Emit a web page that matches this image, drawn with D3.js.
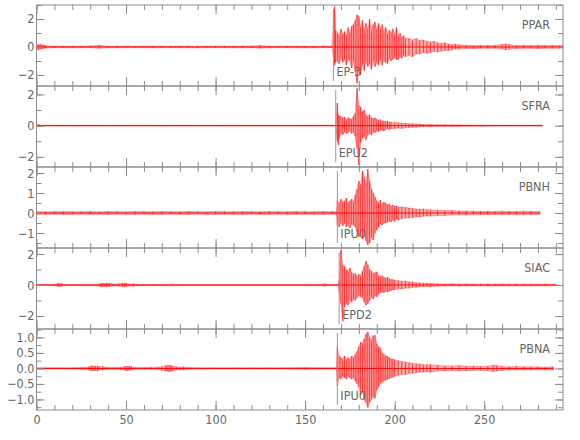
<!DOCTYPE html>
<html lang="en">
	<head>
		<meta charset="utf-8">
		<title>Seismograms</title>
		<script type="text/javascript" src="https://cdn.jsdelivr.net/npm/d3@7/dist/d3.min.js"></script>
		<style type="text/css">
			body { margin: 0; background: #fff; }
			svg text { font-family: "Liberation Sans Narrow", "DejaVu Sans Condensed", sans-serif; fill: #666; }
			.tick line { stroke: #8c8c8c; }
		</style>
	</head>
	<body>
		<script type="text/javascript">

			//Stations and picks
			var stations = ["PPAR", "SFRA", "PBNH", "SIAC", "PBNA"];
			var pickLabels = ["EP-3", "EPU2", "IPU0", "EPD2", "IPU0"];
			var pickTimes = [165.8, 167.1, 168, 169, 168];

			//Amplitude range of each trace
			var yMin = [-2.79, -2.65, -1.75, -2.84, -1.34];
			var yMax = [3.0, 2.54, 2.3, 2.39, 1.27];
			var yLabelTicks = [[-2, 0, 2], [-2, 0, 2], [-1, 0, 1, 2], [-2, 0, 2], [-1, -0.5, 0, 0.5, 1]];
			var yMinorStep = [1, 1, 0.5, 1, 0.25];

			//Time axis (s)
			var timeMax = 294;
			var timeLabels = [0, 50, 100, 150, 200, 250];

			//Traces: [time, upper, lower] read from the envelope of each record
			var ppar = [
				[0,0.2,-0.2],[1,0.16,-0.22],[2,0.2,-0.15],[3,0.14,-0.16],[4,0.15,-0.1],[5,0.08,-0.09],[10,0.06,-0.06],[15,0.07,-0.05],
				[20,0.05,-0.07],[25,0.06,-0.05],[30,0.07,-0.06],[35,0.12,-0.1],[40,0.05,-0.06],[45,0.06,-0.07],[50,0.07,-0.05],[55,0.05,-0.06],
				[60,0.06,-0.05],[65,0.07,-0.07],[70,0.05,-0.06],[75,0.06,-0.05],[80,0.07,-0.06],[85,0.05,-0.06],[90,0.06,-0.07],[95,0.05,-0.05],
				[100,0.07,-0.06],[105,0.06,-0.05],[110,0.05,-0.06],[115,0.07,-0.07],[120,0.06,-0.05],[125,0.1,-0.09],[130,0.05,-0.06],[135,0.06,-0.05],
				[140,0.07,-0.06],[145,0.05,-0.06],[150,0.06,-0.07],[155,0.05,-0.05],[160,0.07,-0.06],[165,0.06,-0.05],
				[166.5,2.9,-1.3],[167,1.2,-1.1],[168,1.0,-1.0],[169,0.8,-1.2],[170,1.3,-0.8],[171,0.9,-1.1],[172,1.1,-0.9],[173,0.8,-1.3],
				[174,1.4,-0.9],[175,1.0,-1.0],[176,1.5,-1.5],[177,1.6,-1.0],[178,1.9,-1.8],[179,2.3,-2.6],[180,2.2,-1.6],[181,1.4,-2.0],
				[182,1.9,-1.2],[183,1.2,-1.7],[184,1.7,-1.0],[185,1.3,-1.4],[186,2.0,-1.2],[187,1.1,-1.6],[188,1.6,-1.0],[189,1.8,-1.4],
				[190,1.2,-1.1],[191,1.7,-1.3],[192,1.3,-0.9],[193,1.6,-1.3],[194,1.1,-1.0],[195,1.4,-1.1],[196,0.9,-1.2],[197,1.2,-0.8],
				[198,1.0,-1.0],[199,1.3,-0.9],[200,0.9,-0.8],[201,1.4,-0.9],[202,0.8,-0.9],[203,1.0,-0.7],[204,0.7,-0.8],[205,0.8,-0.6],
				[206,0.6,-0.7],[208,0.6,-0.6],[210,0.5,-0.7],[212,0.6,-0.5],[214,0.45,-0.5],[216,0.5,-0.4],[218,0.4,-0.45],[220,0.35,-0.4],
				[222,0.4,-0.3],[224,0.3,-0.35],[226,0.25,-0.3],[228,0.3,-0.25],[230,0.2,-0.25],[232,0.15,-0.2],[234,0.2,-0.15],[236,0.15,-0.15],
				[240,0.12,-0.12],[244,0.1,-0.12],[248,0.12,-0.1],[252,0.1,-0.1],[256,0.12,-0.1],[260,0.18,-0.15],[262,0.22,-0.2],[264,0.18,-0.15],
				[268,0.1,-0.12],[272,0.12,-0.1],[276,0.1,-0.1],[280,0.12,-0.12],[284,0.1,-0.1],[288,0.12,-0.1],[292,0.1,-0.1],[294,0.08,-0.08]
			];
			var sfra = [
				[0,0.03,-0.03],[1,0.08,-0.06],[2,0.05,-0.05],[3,0.03,-0.03],[10,0.03,-0.02],[20,0.02,-0.03],[30,0.03,-0.03],[40,0.02,-0.02],
				[50,0.03,-0.03],[60,0.03,-0.02],[70,0.02,-0.03],[80,0.03,-0.03],[90,0.02,-0.02],[100,0.03,-0.03],[110,0.03,-0.02],[120,0.02,-0.03],
				[130,0.03,-0.03],[140,0.02,-0.02],[150,0.03,-0.03],[160,0.03,-0.02],[167,0.03,-0.03],
				[168,1.45,-1.0],[168.5,0.7,-1.25],[169,0.6,-0.8],[170,0.6,-0.5],[171,0.5,-0.6],[172,0.55,-0.4],[173,0.4,-0.5],[174,0.5,-0.45],
				[175,0.45,-0.35],[176,0.4,-0.5],[177,0.6,-0.4],[178,0.8,-0.7],[179,2.4,-1.5],[180,1.3,-2.5],[181,1.2,-1.1],[182,0.9,-0.8],
				[183,1.0,-0.7],[184,0.7,-0.9],[185,0.6,-0.6],[186,0.7,-0.5],[187,0.5,-0.6],[188,0.45,-0.4],[189,0.5,-0.45],[190,0.4,-0.35],
				[191,0.35,-0.4],[192,0.4,-0.3],[193,0.3,-0.3],[194,0.3,-0.35],[195,0.25,-0.25],[196,0.3,-0.2],[197,0.2,-0.25],[198,0.22,-0.2],
				[200,0.2,-0.18],[202,0.18,-0.15],[204,0.15,-0.18],[206,0.15,-0.12],[208,0.12,-0.12],[210,0.12,-0.1],[212,0.1,-0.1],[214,0.1,-0.08],
				[216,0.08,-0.08],[220,0.07,-0.07],[224,0.06,-0.06],[228,0.06,-0.06],[232,0.05,-0.05],[236,0.05,-0.05],[240,0.04,-0.04],[248,0.04,-0.04],
				[256,0.03,-0.03],[264,0.03,-0.03],[272,0.03,-0.03],[282.5,0.03,-0.03]
			];
			var pbnh = [
				[0,0.07,-0.07],[5,0.06,-0.07],[10,0.07,-0.06],[15,0.07,-0.07],[20,0.06,-0.07],[25,0.07,-0.06],[30,0.07,-0.07],[35,0.06,-0.06],
				[40,0.07,-0.07],[45,0.07,-0.06],[50,0.06,-0.07],[55,0.07,-0.07],[60,0.07,-0.06],[65,0.06,-0.07],[70,0.07,-0.07],[75,0.07,-0.06],
				[80,0.06,-0.07],[85,0.07,-0.07],[90,0.07,-0.06],[95,0.06,-0.07],[100,0.07,-0.07],[105,0.07,-0.06],[110,0.06,-0.07],[115,0.07,-0.07],
				[120,0.07,-0.06],[125,0.06,-0.07],[130,0.07,-0.07],[135,0.07,-0.06],[140,0.06,-0.07],[145,0.07,-0.07],[150,0.07,-0.06],[155,0.06,-0.07],
				[160,0.07,-0.07],[165,0.07,-0.06],[167.5,0.06,-0.07],
				[168,0.65,-0.6],[169,0.5,-0.7],[170,0.7,-0.5],[171,0.55,-0.65],[172,0.6,-0.5],[173,0.75,-0.7],[174,0.5,-0.6],[175,0.6,-0.75],
				[176,0.7,-0.55],[177,0.55,-0.6],[178,0.9,-0.7],[179,1.2,-0.9],[180,1.6,-1.2],[181,1.4,-1.0],[182,2.1,-1.3],[183,1.8,-1.1],
				[184,1.5,-1.4],[185,2.2,-1.6],[186,1.6,-1.5],[187,1.2,-1.2],[188,1.0,-1.35],[189,0.8,-1.0],[190,0.6,-0.85],[191,0.5,-0.7],
				[192,0.65,-0.55],[193,0.45,-0.6],[194,0.55,-0.5],[195,0.5,-0.5],[196,0.4,-0.45],[197,0.45,-0.4],[198,0.35,-0.45],[199,0.4,-0.35],
				[200,0.33,-0.43],[201,0.35,-0.3],[202,0.3,-0.35],[204,0.3,-0.28],[206,0.28,-0.25],[208,0.25,-0.25],[210,0.22,-0.22],[212,0.2,-0.2],
				[214,0.18,-0.2],[216,0.2,-0.16],[218,0.16,-0.15],[220,0.15,-0.15],[224,0.14,-0.13],[228,0.12,-0.12],[232,0.12,-0.1],[236,0.1,-0.1],
				[240,0.1,-0.1],[244,0.09,-0.08],[248,0.08,-0.09],[252,0.09,-0.08],[256,0.08,-0.08],[260,0.09,-0.08],[264,0.08,-0.08],[268,0.08,-0.09],
				[272,0.09,-0.08],[276,0.08,-0.08],[281,0.07,-0.07]
			];
			var siac = [
				[0,0.03,-0.03],[5,0.03,-0.02],[10,0.04,-0.04],[12,0.1,-0.1],[13,0.08,-0.09],[14,0.1,-0.08],[16,0.03,-0.03],[20,0.03,-0.03],
				[25,0.03,-0.03],[30,0.04,-0.03],[35,0.06,-0.06],[36,0.1,-0.12],[37,0.12,-0.1],[38,0.08,-0.1],[39,0.12,-0.12],[40,0.1,-0.08],
				[41,0.11,-0.1],[43,0.06,-0.06],[46,0.08,-0.07],[48,0.12,-0.11],[49,0.1,-0.12],[50,0.12,-0.1],[52,0.06,-0.07],[54,0.08,-0.08],
				[56,0.04,-0.04],[60,0.03,-0.03],[66,0.04,-0.04],[70,0.03,-0.03],[76,0.05,-0.05],[80,0.03,-0.03],[90,0.03,-0.03],[100,0.03,-0.03],
				[110,0.03,-0.03],[120,0.03,-0.03],[130,0.03,-0.03],[140,0.03,-0.03],[150,0.03,-0.03],[158,0.03,-0.03],[161,0.08,-0.08],[163,0.03,-0.03],
				[168.5,0.03,-0.03],
				[169,0.3,-0.4],[170,2.25,-1.2],[171,1.3,-2.35],[172,1.2,-1.4],[173,1.0,-1.2],[174,0.9,-1.3],[175,1.1,-1.0],[176,0.8,-1.1],
				[177,0.7,-0.9],[178,0.75,-1.0],[179,0.6,-0.8],[180,0.7,-0.7],[181,0.6,-0.75],[182,0.9,-0.8],[183,1.2,-1.1],[184,1.55,-1.3],
				[185,1.3,-1.2],[186,1.0,-1.0],[187,0.9,-0.8],[188,0.75,-0.9],[189,0.8,-0.7],[190,0.85,-0.75],[191,0.6,-0.6],[192,0.55,-0.5],
				[193,0.6,-0.45],[194,0.5,-0.5],[195,0.45,-0.4],[196,0.5,-0.45],[197,0.4,-0.4],[198,0.35,-0.35],[199,0.35,-0.3],[200,0.3,-0.3],
				[202,0.28,-0.25],[204,0.25,-0.25],[206,0.25,-0.2],[208,0.2,-0.2],[210,0.18,-0.15],[212,0.15,-0.15],[214,0.14,-0.12],[216,0.12,-0.12],
				[218,0.12,-0.1],[220,0.1,-0.1],[224,0.08,-0.08],[228,0.07,-0.07],[232,0.08,-0.06],[236,0.06,-0.07],[240,0.07,-0.06],[244,0.06,-0.06],
				[248,0.07,-0.06],[252,0.06,-0.07],[256,0.06,-0.06],[260,0.07,-0.06],[264,0.06,-0.06],[268,0.06,-0.06],[272,0.06,-0.05],[276,0.05,-0.06],
				[280,0.06,-0.05],[284,0.05,-0.05],[290,0.05,-0.05]
			];
			var pbna = [
				[0,0.02,-0.02],[5,0.02,-0.02],[10,0.02,-0.02],[15,0.02,-0.02],[20,0.02,-0.02],[25,0.03,-0.03],[29,0.04,-0.04],[30,0.07,-0.06],
				[31,0.08,-0.08],[32,0.06,-0.07],[33,0.08,-0.07],[34,0.07,-0.08],[35,0.05,-0.05],[37,0.06,-0.05],[39,0.03,-0.03],[43,0.03,-0.03],
				[47,0.04,-0.04],[49,0.06,-0.05],[50,0.07,-0.07],[51,0.06,-0.07],[52,0.07,-0.06],[53,0.06,-0.05],[55,0.03,-0.03],[60,0.03,-0.03],
				[64,0.04,-0.03],[68,0.04,-0.04],[70,0.06,-0.06],[72,0.08,-0.08],[73,0.1,-0.09],[74,0.09,-0.1],[75,0.1,-0.09],[76,0.07,-0.08],
				[78,0.05,-0.05],[80,0.04,-0.04],[82,0.05,-0.05],[85,0.03,-0.03],[90,0.02,-0.02],[100,0.02,-0.02],[110,0.02,-0.02],[120,0.02,-0.02],
				[130,0.02,-0.02],[140,0.02,-0.02],[150,0.03,-0.03],[160,0.02,-0.02],[167.5,0.02,-0.02],
				[168,0.7,-0.55],[169,0.4,-0.3],[170,0.35,-0.35],[171,0.3,-0.25],[172,0.4,-0.3],[173,0.3,-0.35],[174,0.35,-0.25],[175,0.3,-0.3],
				[176,0.4,-0.35],[177,0.35,-0.3],[178,0.45,-0.4],[179,0.55,-0.5],[180,0.7,-0.6],[181,0.85,-0.86],[182,0.8,-0.75],[183,0.95,-1.0],
				[184,1.1,-1.1],[185,1.18,-1.26],[186,1.0,-1.1],[187,0.9,-1.0],[188,1.05,-0.9],[189,1.07,-0.97],[190,0.8,-0.7],[191,0.7,-0.6],
				[192,0.65,-0.48],[193,0.5,-0.45],[194,0.45,-0.4],[195,0.4,-0.38],[196,0.38,-0.35],[197,0.35,-0.33],[198,0.3,-0.3],[199,0.3,-0.28],
				[200,0.28,-0.25],[202,0.25,-0.22],[204,0.22,-0.2],[206,0.2,-0.2],[208,0.18,-0.16],[210,0.16,-0.15],[212,0.15,-0.14],[214,0.14,-0.12],
				[216,0.12,-0.12],[218,0.12,-0.1],[220,0.12,-0.12],[224,0.1,-0.08],[228,0.08,-0.08],[232,0.08,-0.07],[236,0.09,-0.08],[240,0.07,-0.07],
				[244,0.07,-0.06],[248,0.06,-0.06],[252,0.07,-0.07],[255,0.1,-0.1],[257,0.09,-0.08],[260,0.06,-0.06],[264,0.05,-0.05],[268,0.06,-0.05],
				[272,0.05,-0.05],[276,0.05,-0.05],[280,0.05,-0.04],[284,0.04,-0.05],[288.5,0.05,-0.05]
			];
			var traces = [ppar, sfra, pbnh, siac, pbna];

			//Width and height
			var w = 580;
			var h = 440;
			var left = 36.5, right = 563;
			var top0 = 5, panelH = 81;

			var xScale = d3.scaleLinear()
							.domain([0, timeMax])
							.range([left, right]);

			var xMinor = d3.range(0, timeMax + 1, 10);

			//Create SVG element
			var svg = d3.select("body")
						.append("svg")
						.attr("width", w)
						.attr("height", h);

			stations.forEach(function(name, i) {
				var y0 = top0 + i * panelH;
				var y1 = y0 + panelH;

				var yScale = d3.scaleLinear()
								.domain([yMin[i], yMax[i]])
								.range([y1, y0]);

				var g = svg.append("g");

				svg.append("clipPath")
				   .attr("id", "clip" + i)
				   .append("rect")
				   .attr("x", left)
				   .attr("y", y0)
				   .attr("width", right - left)
				   .attr("height", panelH);

				var tr = g.append("g").attr("clip-path", "url(#clip" + i + ")");

				//Envelope band of the trace
				var area = d3.area()
							 .x(function(d) { return xScale(d[0]); })
							 .y0(function(d) { return yScale(d[2]); })
							 .y1(function(d) { return yScale(d[1]); });

				tr.append("path")
				  .datum(traces[i])
				  .attr("d", area)
				  .attr("fill", "#ff0000")
				  .attr("fill-opacity", 0.3)
				  .attr("stroke", "#ff0000")
				  .attr("stroke-width", 0.5)
				  .attr("stroke-opacity", 0.6);

				//Min/max strokes
				tr.selectAll("line.swing")
				  .data(traces[i])
				  .enter()
				  .append("line")
				  .attr("class", "swing")
				  .attr("x1", function(d) { return xScale(d[0]); })
				  .attr("x2", function(d) { return xScale(d[0]); })
				  .attr("y1", function(d) { return yScale(d[1]); })
				  .attr("y2", function(d) { return yScale(d[2]); })
				  .attr("stroke", "#ff0000")
				  .attr("stroke-width", 0.7);

				//Zero trace line
				tr.append("line")
				  .attr("x1", xScale(traces[i][0][0]))
				  .attr("x2", xScale(traces[i][traces[i].length - 1][0]))
				  .attr("y1", yScale(0))
				  .attr("y2", yScale(0))
				  .attr("stroke", "#ff0000")
				  .attr("stroke-width", 1);

				//Pick line and label
				g.append("line")
				 .attr("x1", xScale(pickTimes[i]))
				 .attr("x2", xScale(pickTimes[i]))
				 .attr("y1", y0 + 4)
				 .attr("y2", y1 - 5)
				 .attr("stroke", "#999")
				 .attr("stroke-width", 1);

				g.append("text")
				 .attr("x", xScale(pickTimes[i]) + 3)
				 .attr("y", y1 - 10)
				 .attr("font-size", "12.5px")
				 .text(pickLabels[i]);

				g.append("text")
				 .attr("x", 550)
				 .attr("y", y0 + 24)
				 .attr("text-anchor", "end")
				 .attr("font-size", "12.5px")
				 .text(name);

				//Y axes, ticks inward
				var yMinorTicks = d3.range(Math.ceil(yMin[i] / yMinorStep[i]), Math.floor(yMax[i] / yMinorStep[i]) + 1)
									.map(function(k) { return k * yMinorStep[i]; });
				var fmt = i === 4 ? d3.format(".1f") : d3.format("d");

				g.append("g").attr("transform", "translate(" + left + ",0)")
				 .call(d3.axisLeft(yScale).tickValues(yMinorTicks).tickSize(-5).tickFormat(""));
				g.append("g").attr("transform", "translate(" + left + ",0)")
				 .call(d3.axisLeft(yScale).tickValues(yLabelTicks[i]).tickSize(-8).tickPadding(2).tickFormat(fmt));
				g.append("g").attr("transform", "translate(" + right + ",0)")
				 .call(d3.axisRight(yScale).tickValues(yMinorTicks).tickSize(-5).tickFormat(""));
				g.append("g").attr("transform", "translate(" + right + ",0)")
				 .call(d3.axisRight(yScale).tickValues(yLabelTicks[i]).tickSize(-8).tickFormat(""));

				//X axes, top and bottom
				g.append("g").attr("transform", "translate(0," + y0 + ")")
				 .call(d3.axisTop(xScale).tickValues(xMinor).tickSize(-5).tickFormat(""));
				g.append("g").attr("transform", "translate(0," + y0 + ")")
				 .call(d3.axisTop(xScale).tickValues(timeLabels).tickSize(-9).tickFormat(""));
				g.append("g").attr("transform", "translate(0," + y1 + ")")
				 .call(d3.axisBottom(xScale).tickValues(xMinor).tickSize(-5).tickFormat(""));
				g.append("g").attr("transform", "translate(0," + y1 + ")")
				 .call(d3.axisBottom(xScale).tickValues(timeLabels).tickSize(-9).tickPadding(5)
				 	.tickFormat(i === stations.length - 1 ? d3.format("d") : ""));

				g.selectAll(".domain").remove();
				g.selectAll(".tick text")
				 .attr("font-size", "12.5px")
				 .attr("fill", "#666");

				//Panel frame
				g.append("rect")
				 .attr("x", left)
				 .attr("y", y0)
				 .attr("width", right - left)
				 .attr("height", panelH)
				 .attr("fill", "none")
				 .attr("stroke", "#8c8c8c")
				 .attr("stroke-width", 1);
			});

		</script>
	</body>
</html>
